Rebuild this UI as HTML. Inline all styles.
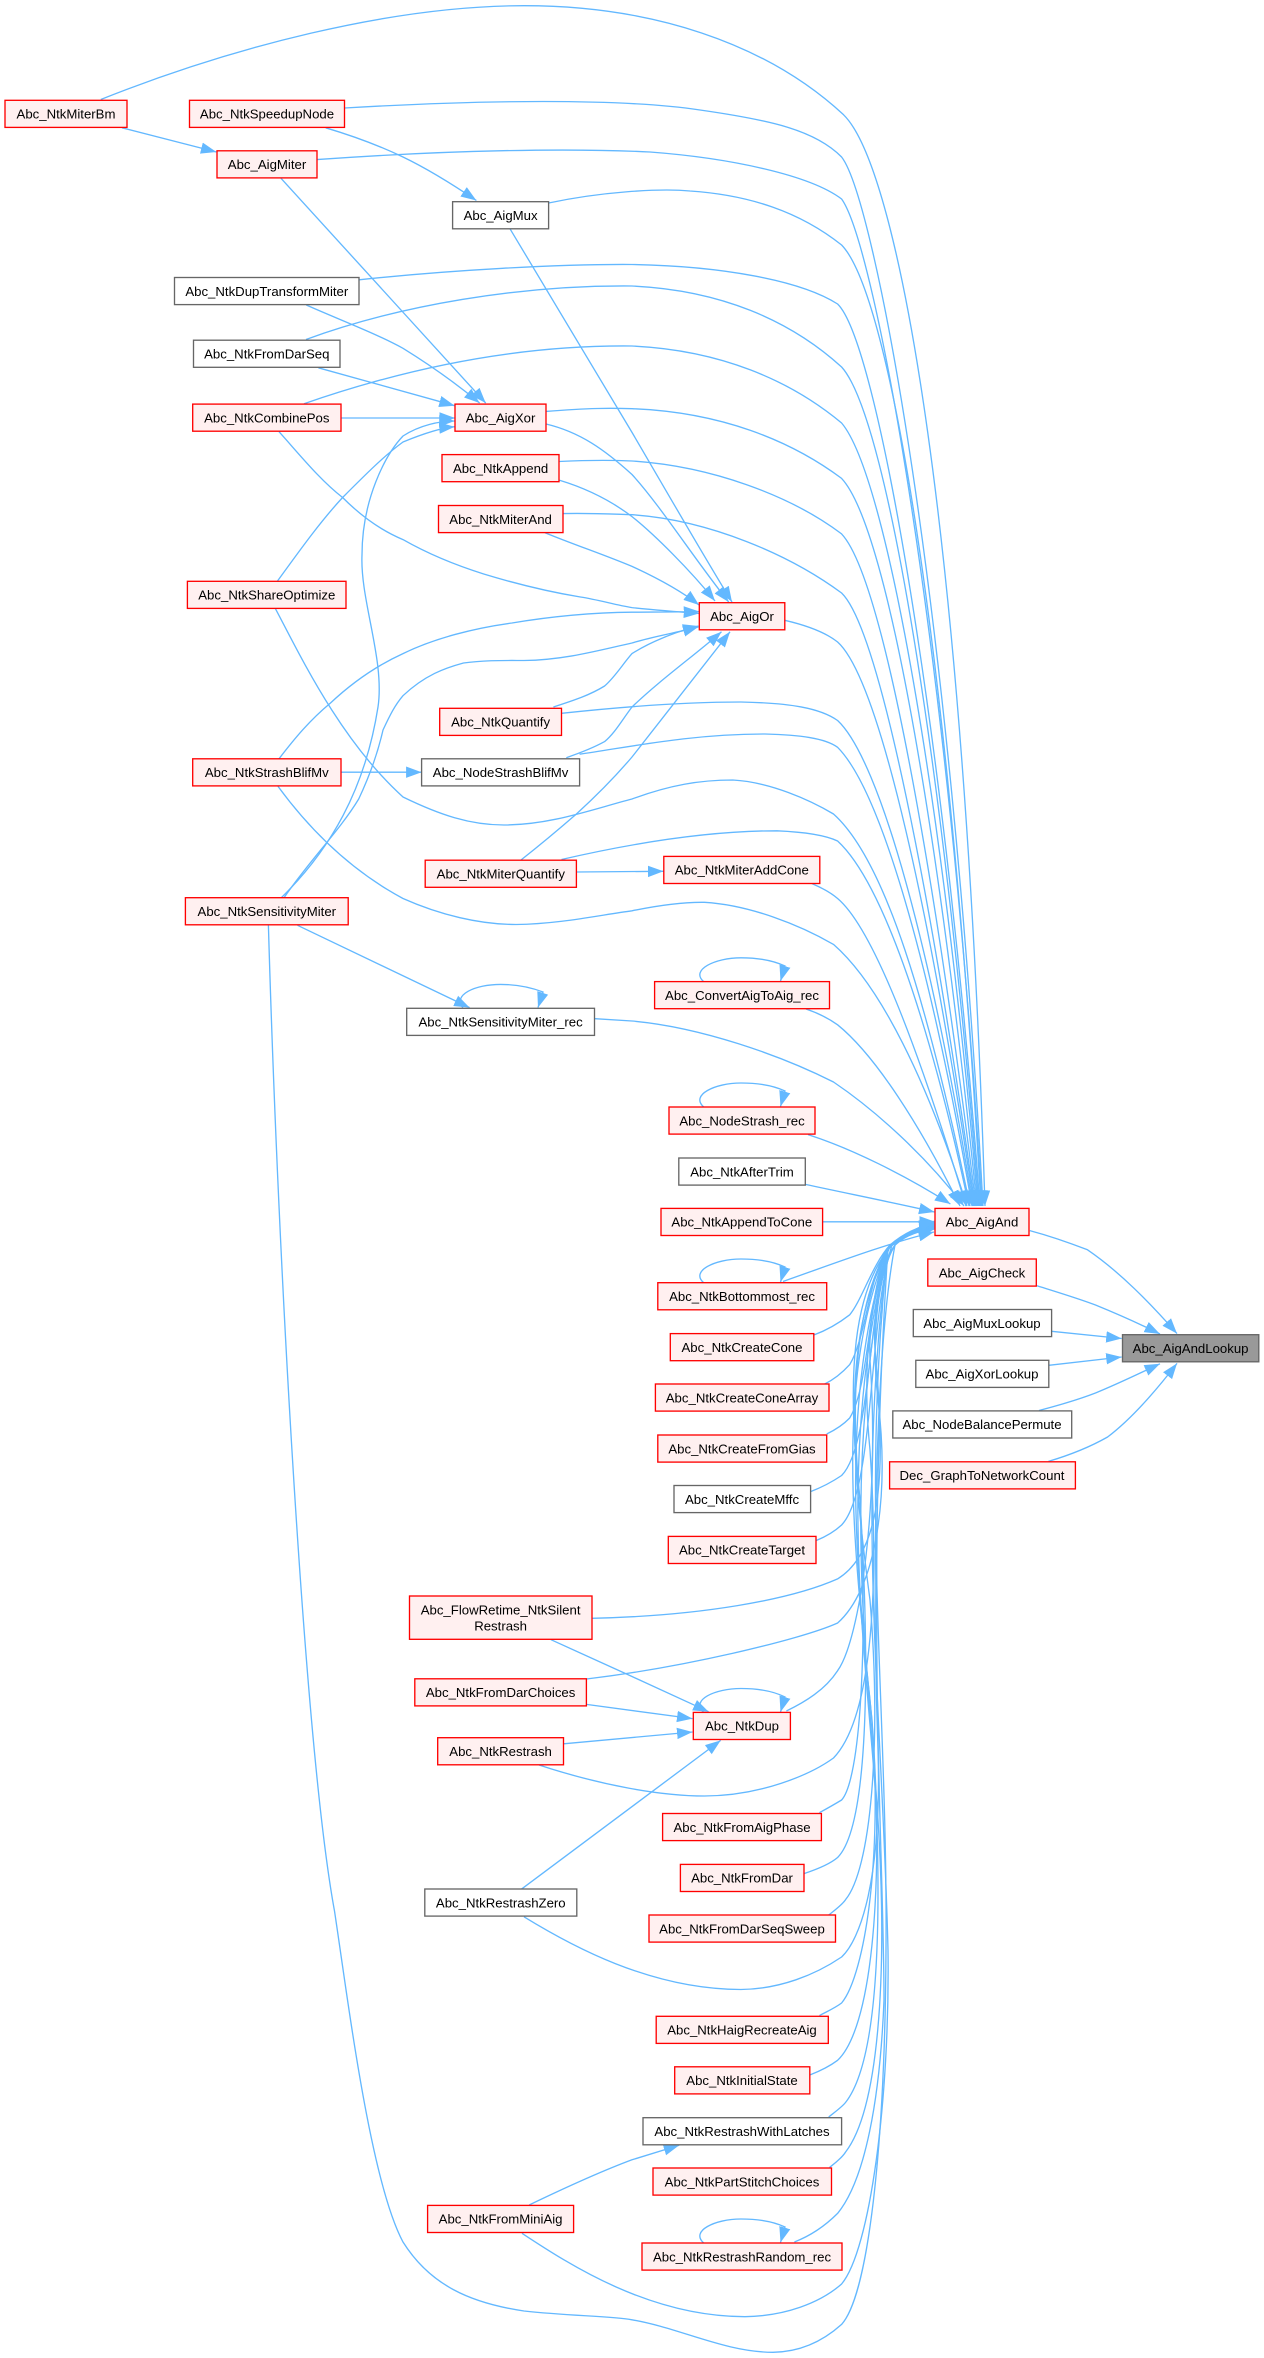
<!DOCTYPE html>
<html><head><meta charset="utf-8"><style>
html,body{margin:0;padding:0;background:#fff}
svg{display:block}
text{font-family:"Liberation Sans",Arial,sans-serif;font-size:13.2px;text-anchor:middle;fill:#000}
.e path{fill:none;stroke:#63b8ff;stroke-width:1.33;marker-end:url(#a)}
.r{fill:#fff0f0;stroke:#f00;stroke-width:1.33}
.g{fill:#fff;stroke:#666;stroke-width:1.33}
.m{fill:#999;stroke:#666;stroke-width:1.33}
</style></head><body>
<svg width="1264" height="2358" viewBox="0 0 1264 2358" xmlns="http://www.w3.org/2000/svg">
<defs><marker id="a" markerUnits="userSpaceOnUse" markerWidth="16" markerHeight="13" refX="15.5" refY="6.5" orient="auto"><polygon points="0,0.8 15.5,6.5 0,12.2" fill="#63b8ff"/></marker></defs>
<g class="e">
<path d="M100.8,99.5C230,48 390,5.7 524,5.7C650,5.7 765,42 843.6,114.8C900,170 964,540 985,1206"/>
<path d="M344.6,108C480,100 620,98 700,110C770,120 815,130 841.6,157C875,200 950,600 983,1206"/>
<path d="M316.8,159.6C450,150 570,148 650,152C730,158 810,175 841.6,199C875,245 948,640 982,1206"/>
<path d="M548.6,203C600,192 660,188 690,191C750,195 800,212 841.6,245C895,300 952,700 981,1206"/>
<path d="M359,279.8C450,270 560,264 632,264.5C720,266 800,280 837.6,304C880,345 947,760 980,1206"/>
<path d="M306,339.5C400,305 520,285 632,286C720,290 790,320 841.6,367C890,420 947,800 979,1206"/>
<path d="M304,403.7C430,360 540,345 632,346C720,350 790,380 841.6,423C890,480 947,840 978,1206"/>
<path d="M546,411.4C590,408 610,408 632,408.7C720,412 790,440 841.6,478.4C890,530 942,860 977,1206"/>
<path d="M559,461.5C590,460 610,460 632,461C710,466 790,495 841.6,533.9C885,580 937,890 976,1206"/>
<path d="M563,513.6C590,513 610,514 632,514.7C710,520 790,555 841.6,593C880,630 932,900 975,1206"/>
<path d="M784.8,620.3C805,625 825,632 837.6,642C880,680 932,920 974,1206"/>
<path d="M561.5,713.3C620,707 680,702 740.8,702C790,703 820,708 837.6,720.5C880,760 932,950 973,1206"/>
<path d="M579.6,754.2C630,747 690,734 765,734C800,735 825,738 837.6,747.3C880,790 930,960 972,1206"/>
<path d="M275.3,608.4C300,655 340,740 403,797C440,815 470,825 504,825C550,825 590,810 632,799C670,785 700,780 732.8,780C770,782 810,800 833.5,814C885,860 927,1000 970,1206"/>
<path d="M561.5,859.5C620,846 700,830.8 777,830.8C805,832 825,835 837.6,841C880,880 927,1010 969,1206"/>
<path d="M278,786.4C310,830 350,870 403,898.5C440,915 480,924.5 516,924.5C560,924 600,915 632,910.8C660,905 685,902 704.5,902.3C750,905 800,925 833.5,944.4C880,985 927,1080 967,1206"/>
<path d="M812,883.6C820,887 830,892 837.6,898.5C875,930 922,1060 966,1206"/>
<path d="M595,1018.7L632,1021C700,1027 780,1055 833.5,1082C875,1110 925,1155 964,1206"/>
<path d="M806,1009C818,1013 828,1018 837.6,1024.8C875,1055 920,1125 960,1206"/>
<path d="M808,1134.6C850,1148 905,1175 950.4,1204"/>
<path d="M805.3,1184.4C850,1194 895,1203 934.5,1212"/>
<path d="M822.6,1221.8L935,1221.8"/>
<path d="M783,1281.5C830,1265 885,1244 934,1232"/>
<path d="M813.8,1335C830,1329 843,1320 849.7,1314.8C862,1300 872,1265 890,1245C905,1232 920,1226 935,1224"/>
<path d="M824.7,1384C835,1379 843,1372 849.7,1364.6C865,1340 868,1285 885,1252C900,1236 918,1228 935,1226"/>
<path d="M826.7,1434C835,1430 843,1425 849.7,1418C870,1385 868,1290 888,1248C902,1234 920,1228 935,1226"/>
<path d="M810.6,1491.6C820,1488 832,1482 841.6,1475.5C872,1445 868,1300 890,1246C903,1234 920,1229 935,1227"/>
<path d="M816,1540.6C825,1537 834,1532 841.6,1525C875,1490 868,1320 892,1245C905,1234 920,1230 935,1228"/>
<path d="M592,1618.3C700,1616 790,1600 837.6,1578.9C885,1550 885,1460 875,1350C872,1300 885,1260 895,1245C907,1234 920,1231 935,1229"/>
<path d="M586.4,1679C680,1668 800,1640 837.6,1623C875,1590 890,1500 878,1400C870,1330 880,1270 895,1245C905,1235 920,1230 935,1228"/>
<path d="M786.4,1711C805,1702 825,1690 837.6,1670.7C860,1640 880,1500 870,1360C868,1310 880,1265 895,1245C907,1234 920,1230 935,1227"/>
<path d="M539,1765C600,1785 660,1796 704.5,1796C760,1796 810,1775 833.5,1758C870,1720 880,1600 870,1450C860,1350 875,1275 895,1245C905,1235 920,1229 935,1226"/>
<path d="M819.4,1812.7C828,1808 835,1804 841.6,1800C860,1780 868,1650 860,1500C848,1380 860,1290 890,1247C905,1234 920,1228 935,1225"/>
<path d="M804,1873.6C818,1869 830,1864 837.6,1857.5C865,1830 872,1700 860,1500C845,1370 855,1290 890,1247C905,1234 920,1228 935,1225"/>
<path d="M828.7,1915C835,1910 842,1905 845.6,1899.6C870,1870 882,1750 870,1600C850,1450 842,1330 890,1247C905,1234 920,1228 935,1224"/>
<path d="M524,1916.8C570,1945 650,1989.5 740.8,1989.5C780,1989 815,1975 841.6,1957C860,1940 882,1880 878,1750C872,1580 875,1350 895,1245C907,1234 920,1228 935,1224"/>
<path d="M819.4,2015.6C828,2011 835,2008 841.6,2003C865,1975 885,1850 870,1700C850,1520 838,1370 888,1248C905,1234 920,1227 935,1223"/>
<path d="M809.8,2075C820,2071 830,2066 837.6,2060.3C870,2030 885,1900 872,1720C855,1560 840,1400 888,1248C905,1234 920,1227 935,1223"/>
<path d="M828.7,2117C835,2112 842,2107 845.6,2102.4C875,2065 882,1950 876,1800C866,1650 835,1460 888,1248C905,1234 920,1227 935,1222"/>
<path d="M829.5,2167.5C835,2163 842,2158 845.6,2152C878,2110 888,1980 878,1820C868,1660 840,1480 888,1248C905,1234 920,1226 935,1222"/>
<path d="M794.4,2242C810,2236 825,2226 837.6,2213.4C865,2180 880,2100 884,2000C884,1850 865,1600 888,1248C905,1234 920,1226 935,1222"/>
<path d="M522,2233.3C570,2265 650,2316.7 744.9,2316.7C785,2316 820,2303 841.6,2284C870,2250 890,2100 888,1950C882,1700 855,1500 888,1248C905,1234 920,1226 935,1222"/>
<path d="M268.4,925.3C278,1260 305,1750 334.5,1911C348,2000 370,2180 403,2242C430,2285 470,2303 524,2311C570,2316 610,2316 632,2319.8C680,2328 725,2352.3 773,2352.3C800,2352 822,2342 841.6,2324.4C868,2295 885,2150 886,1950C888,1700 860,1500 888,1248C905,1234 920,1226 935,1221"/>
<path d="M122,127.8L216.4,152"/>
<path d="M325.7,127.8C350,135 380,146 403,157C430,170 455,186 476.4,200.5"/>
<path d="M281,178.3L485.7,403"/>
<path d="M306.3,305C340,320 375,333 403,348.3C430,365 458,385 479.6,403"/>
<path d="M318.4,367.8L454.7,405.7"/>
<path d="M341,418L455,418"/>
<path d="M277.3,581.3C300,550 320,522 342.6,497.5C365,475 385,455 403,442C420,435 440,428 454.7,426.7"/>
<path d="M281.3,897.7C330,850 365,790 378,707C385,660 360,600 362,555C362,500 385,455 403,436C420,425 440,421 454.7,421"/>
<path d="M279,431.7C300,455 320,480 342.6,497.5C360,515 380,530 403,539.6C430,555 455,565 483.7,574C520,585 550,592 580.4,597C600,600 615,605 632,607.6C655,610 680,612 699.3,613.4"/>
<path d="M546,424C580,432 605,450 632,474.5C660,505 695,560 728.7,602"/>
<path d="M559.5,480.3C585,488 610,500 632,516.6C655,535 690,570 715,601"/>
<path d="M545,532.7C575,545 605,555 632,566.4C655,577 680,590 699,605"/>
<path d="M510,228.8L632,432.4C660,480 700,550 732,602"/>
<path d="M279,758.8C295,738 310,720 330.5,703C355,680 378,665 403,653.6C435,638 475,628 512,623C560,615 600,612.5 632,612.2C655,612 680,612 699.3,611.5"/>
<path d="M284,897.7C310,860 340,830 358.7,799C370,775 378,752 383,730C390,715 395,705 403,695.7C425,675 445,668 463.5,663C485,660 505,660.5 524,660.5C565,660 600,650 632,643C655,636 680,632 698.5,626.8"/>
<path d="M553.4,707C575,700 590,695 604.6,686C615,677 622,665 632,653.6C650,642 675,632 698.5,626"/>
<path d="M566.3,757.7C580,753 593,748 604.6,741.6C615,733 622,720 632,707C660,680 695,655 721.5,631.8"/>
<path d="M521,860C540,845 558,830 576.4,814C595,797 615,777 632,757C665,715 700,670 730,631.8"/>
<path d="M341,772.2L421.6,772.2"/>
<path d="M576.4,872L663.5,871.3"/>
<path d="M297.5,925.3L469.6,1007.6"/>
<path d="M551,1639.7L632,1676.5L708.6,1711.7"/>
<path d="M586.4,1704.4L692.5,1718.6"/>
<path d="M563.5,1743.8L692.5,1732"/>
<path d="M521.2,1889.3L720.7,1740.4"/>
<path d="M529.2,2205C575,2183 610,2168 632,2159.8L679.2,2145.3"/>
<path d="M1029.8,1230.6C1050,1236 1070,1243 1087.5,1249.8C1120,1272 1150,1303 1177,1333.6"/>
<path d="M1037,1285.7C1060,1293 1080,1299 1095.5,1305C1120,1315 1140,1324 1160,1334"/>
<path d="M1051.6,1331.3L1121.7,1338.5"/>
<path d="M1048.8,1365.3L1121.7,1357"/>
<path d="M1039,1410.5C1060,1405 1080,1399 1095.5,1393C1120,1383 1140,1373 1160,1363.8"/>
<path d="M1048.4,1461.4C1070,1455 1090,1447 1107.6,1437C1130,1420 1155,1392 1177,1363.4"/>
<path d="M463,1008C452,995 475,984.4 500.6,984.4C515,984.4 530,987 543,992L538,1007.6"/>
<path d="M703.7,981.6C690,970 715,957.8 741,957.8C757,957.8 772,960 785,966L780.5,981"/>
<path d="M703.7,1107C690,1095 715,1083 741,1083C757,1083 772,1085 785,1091L780.5,1106.5"/>
<path d="M703.7,1282.7C690,1271 715,1259 741,1259C757,1259 772,1261 785,1267L780.5,1282"/>
<path d="M703.7,1712.4C690,1700 715,1688.5 741,1688.5C757,1688.5 772,1690.5 785,1697L780.5,1712"/>
<path d="M703.7,2243C690,2231 715,2219 741,2219C757,2219 772,2221 785,2227L780.5,2242.5"/>
</g>
<g>
<rect class="r" x="5" y="100.3" width="122" height="27.1"/><text x="66" y="118.6">Abc_NtkMiterBm</text>
<rect class="r" x="189.5" y="100.3" width="155" height="27.1"/><text x="267" y="118.6">Abc_NtkSpeedupNode</text>
<rect class="r" x="217" y="150.8" width="100" height="27.1"/><text x="267" y="169.1">Abc_AigMiter</text>
<rect class="g" x="452.6" y="201.7" width="96" height="27.1"/><text x="500.6" y="220">Abc_AigMux</text>
<rect class="g" x="174.5" y="277.5" width="184.5" height="27.1"/><text x="266.8" y="295.8">Abc_NtkDupTransformMiter</text>
<rect class="g" x="193.5" y="340.2" width="146.5" height="27.1"/><text x="266.8" y="358.5">Abc_NtkFromDarSeq</text>
<rect class="r" x="192.7" y="404.1" width="148.3" height="27.1"/><text x="266.8" y="422.4">Abc_NtkCombinePos</text>
<rect class="r" x="455" y="404.1" width="91" height="27.1"/><text x="500.6" y="422.4">Abc_AigXor</text>
<rect class="r" x="442" y="454.6" width="117" height="27.1"/><text x="500.6" y="472.9">Abc_NtkAppend</text>
<rect class="r" x="438.5" y="505.5" width="124.5" height="27.1"/><text x="500.6" y="523.8">Abc_NtkMiterAnd</text>
<rect class="r" x="187.4" y="581.3" width="158.6" height="27.1"/><text x="266.8" y="599.6">Abc_NtkShareOptimize</text>
<rect class="r" x="699.3" y="602.7" width="85.5" height="27.1"/><text x="742" y="621">Abc_AigOr</text>
<rect class="r" x="439.7" y="708.3" width="121.8" height="27.1"/><text x="500.6" y="726.6">Abc_NtkQuantify</text>
<rect class="r" x="192.7" y="758.8" width="148.3" height="27.1"/><text x="266.8" y="777.1">Abc_NtkStrashBlifMv</text>
<rect class="g" x="421.6" y="758.8" width="158" height="27.1"/><text x="500.6" y="777.1">Abc_NodeStrashBlifMv</text>
<rect class="r" x="663.8" y="856.4" width="156" height="27.1"/><text x="741.8" y="874.7">Abc_NtkMiterAddCone</text>
<rect class="r" x="425.2" y="860.2" width="151.2" height="27.1"/><text x="500.8" y="878.5">Abc_NtkMiterQuantify</text>
<rect class="r" x="185.4" y="897.7" width="162.8" height="27.1"/><text x="266.8" y="916">Abc_NtkSensitivityMiter</text>
<rect class="r" x="654.6" y="981.6" width="174.9" height="27.1"/><text x="742" y="999.9">Abc_ConvertAigToAig_rec</text>
<rect class="g" x="406.7" y="1008.3" width="187.8" height="27.1"/><text x="500.6" y="1026.6">Abc_NtkSensitivityMiter_rec</text>
<rect class="r" x="669" y="1107" width="146" height="27.1"/><text x="742" y="1125.3">Abc_NodeStrash_rec</text>
<rect class="g" x="678.8" y="1158" width="126.5" height="27.1"/><text x="742" y="1176.3">Abc_NtkAfterTrim</text>
<rect class="r" x="661" y="1208.4" width="161.6" height="27.1"/><text x="741.8" y="1226.7">Abc_NtkAppendToCone</text>
<rect class="r" x="935" y="1208.4" width="94" height="27.1"/><text x="982" y="1226.7">Abc_AigAnd</text>
<rect class="r" x="927.8" y="1259" width="108.5" height="27.1"/><text x="982" y="1277.3">Abc_AigCheck</text>
<rect class="r" x="657.8" y="1282.7" width="168.9" height="27.1"/><text x="742" y="1301">Abc_NtkBottommost_rec</text>
<rect class="g" x="913.3" y="1309.5" width="138.3" height="27.1"/><text x="982" y="1327.8">Abc_AigMuxLookup</text>
<rect class="r" x="670.3" y="1333.6" width="143.5" height="27.1"/><text x="742" y="1351.9">Abc_NtkCreateCone</text>
<rect class="m" x="1122.5" y="1334.7" width="136.3" height="27.1"/><text x="1190.6" y="1353">Abc_AigAndLookup</text>
<rect class="g" x="915.8" y="1360.3" width="133" height="27.1"/><text x="982" y="1378.6">Abc_AigXorLookup</text>
<rect class="r" x="655.4" y="1384" width="173.6" height="27.1"/><text x="742" y="1402.3">Abc_NtkCreateConeArray</text>
<rect class="g" x="892.8" y="1410.9" width="178.9" height="27.1"/><text x="982" y="1429.2">Abc_NodeBalancePermute</text>
<rect class="r" x="657.8" y="1435" width="168.9" height="27.1"/><text x="742" y="1453.3">Abc_NtkCreateFromGias</text>
<rect class="r" x="889.6" y="1461.8" width="185.8" height="27.1"/><text x="982" y="1480.1">Dec_GraphToNetworkCount</text>
<rect class="g" x="674" y="1485.5" width="136.6" height="27.1"/><text x="742" y="1503.8">Abc_NtkCreateMffc</text>
<rect class="r" x="668.3" y="1536.4" width="147.7" height="27.1"/><text x="742" y="1554.7">Abc_NtkCreateTarget</text>
<rect class="r" x="409.5" y="1596" width="182.5" height="43.3"/><text x="500.6" y="1614.3">Abc_FlowRetime_NtkSilent</text><text x="500.6" y="1630.3">Restrash</text>
<rect class="r" x="414.8" y="1678.8" width="171.6" height="27.1"/><text x="500.6" y="1697.1">Abc_NtkFromDarChoices</text>
<rect class="r" x="693.3" y="1712.4" width="97.1" height="27.1"/><text x="742" y="1730.7">Abc_NtkDup</text>
<rect class="r" x="437.7" y="1737.7" width="125.8" height="27.1"/><text x="500.6" y="1756">Abc_NtkRestrash</text>
<rect class="r" x="662.6" y="1813.5" width="158.8" height="27.1"/><text x="742" y="1831.8">Abc_NtkFromAigPhase</text>
<rect class="r" x="680.4" y="1864.4" width="123.6" height="27.1"/><text x="742" y="1882.7">Abc_NtkFromDar</text>
<rect class="g" x="424.8" y="1889" width="152" height="27.1"/><text x="500.8" y="1907.3">Abc_NtkRestrashZero</text>
<rect class="r" x="649" y="1915" width="186.5" height="27.1"/><text x="742" y="1933.3">Abc_NtkFromDarSeqSweep</text>
<rect class="r" x="656.2" y="2016.3" width="172.1" height="27.1"/><text x="742" y="2034.6">Abc_NtkHaigRecreateAig</text>
<rect class="r" x="674.7" y="2066.8" width="135.1" height="27.1"/><text x="742" y="2085.1">Abc_NtkInitialState</text>
<rect class="g" x="643" y="2117.7" width="198.6" height="27.1"/><text x="742" y="2136">Abc_NtkRestrashWithLatches</text>
<rect class="r" x="653" y="2168" width="178.5" height="27.1"/><text x="742" y="2186.3">Abc_NtkPartStitchChoices</text>
<rect class="r" x="427.6" y="2205.4" width="146" height="27.1"/><text x="500.6" y="2223.7">Abc_NtkFromMiniAig</text>
<rect class="r" x="642" y="2243" width="200" height="27.1"/><text x="742" y="2261.3">Abc_NtkRestrashRandom_rec</text>
</g>
</svg>
</body></html>
